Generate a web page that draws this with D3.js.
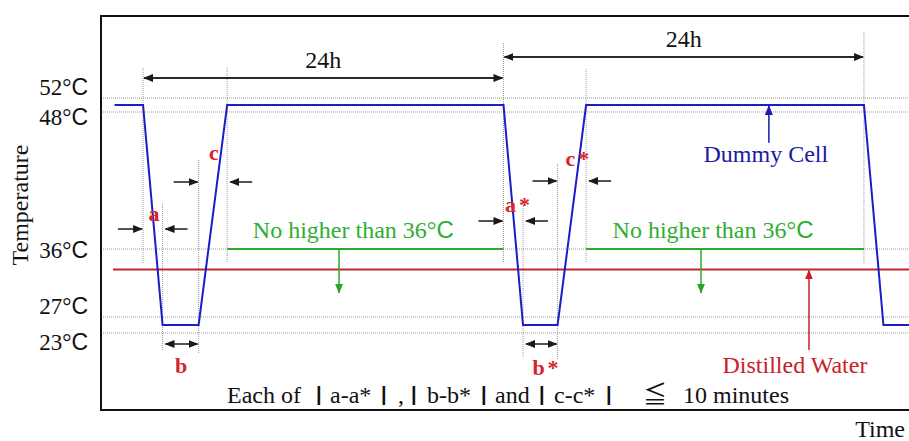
<!DOCTYPE html>
<html lang="en">
<head>
    <meta charset="UTF-8">
    <title>Temperature cycle</title>
    <script src="https://cdn.jsdelivr.net/npm/d3@7/dist/d3.min.js"></script>
    <style>
        body {
            margin: 0;
            padding: 0;
            background: #fff;
        }

        svg text {
            font-family: "Liberation Serif", "Tinos", "DejaVu Serif", serif;
        }

        svg .sans {
            font-family: "Liberation Sans", "Arimo", sans-serif;
        }

        svg .cjk {
            font-family: "Noto Sans CJK JP", sans-serif;
        }
    </style>
</head>
<body>
<svg id="chart" width="909" height="441" xmlns="http://www.w3.org/2000/svg">
    <defs></defs>
</svg>
<script>
    // dummy cell temperature profile (hours, deg C) - schematic
    var cycleTime = [-1.9, 0, 1.3, 3.7, 5.6, 24, 25.3, 27.6, 29.5, 48, 49.3, 51];
    var dummyCellTemp = [50, 50, 25, 25, 50, 50, 25, 25, 50, 50, 25, 25];

    var waterTime = [-2.0, 51];
    var waterTemp = [33.3, 33.3];

    var limitTemp = 36;
    var limitStart = [5.6, 29.5];
    var limitEnd = [24, 48];
    var limitArrowTime = [13.05, 37.15];

    var tempTicks = [52, 48, 36, 27, 23];
    var tempTickLabels = ['52', '48', '36', '27', '23'];

    var spanStart = [0, 24];
    var spanEnd = [24, 48];
    var spanLabels = ['24h', '24h'];

    (function () {
        var svg = d3.select('#chart');
        var left = 101, right = 909, top = 16, bottom = 410;

        var x = d3.scaleLinear().domain([-2.8, 51.0]).range([left, right]);
        // the drawing is not to scale: each labelled band has its own stretch
        var y = d3.scaleLinear().domain([23, 27, 36, 48, 52]).range([333, 317, 249, 112, 98]);

        var defs = svg.select('defs');

        function marker(id, color) {
            defs.append('marker')
                .attr('id', id)
                .attr('viewBox', '0 0 10 10')
                .attr('refX', 9).attr('refY', 5)
                .attr('markerWidth', 10).attr('markerHeight', 10)
                .attr('markerUnits', 'userSpaceOnUse')
                .attr('orient', 'auto-start-reverse')
                .append('path')
                .attr('d', 'M0,1 L10,5 L0,9 Z')
                .attr('fill', color);
        }

        marker('ah-black', '#1a1a1a');
        marker('ah-green', '#2aa52a');
        marker('ah-red', '#c8202a');
        marker('ah-blue', '#1a1ab4');

        // degree sign from the serif face, the C from a sans face like the original
        function celsius(sel) {
            sel.append('tspan').text('°');
            sel.append('tspan').attr('class', 'sans').text('C');
        }

        // dotted temperature guides
        svg.append('g')
            .selectAll('line')
            .data(tempTicks)
            .join('line')
            .attr('x1', left).attr('x2', right)
            .attr('y1', function (d) { return y(d); })
            .attr('y2', function (d) { return y(d); })
            .attr('stroke', '#9a9a9a')
            .attr('stroke-width', 1)
            .attr('stroke-dasharray', '1,1');

        // dotted time guides: [time, top, bottom]
        var guides = [
            [cycleTime[1], 68, y(limitTemp) + 14],
            [cycleTime[2], 203, y(23) + 17],
            [cycleTime[3], 160, y(23) + 20],
            [cycleTime[4], 67, y(limitTemp) + 13],
            [cycleTime[5], 43, y(limitTemp) + 13],
            [cycleTime[6], 202, y(23) + 24],
            [cycleTime[7], 164, y(23) + 26],
            [cycleTime[8], 69, y(limitTemp) + 14],
            [cycleTime[9], 32, y(limitTemp) + 14]
        ];
        svg.append('g')
            .selectAll('line')
            .data(guides)
            .join('line')
            .attr('x1', function (d) { return x(d[0]); })
            .attr('x2', function (d) { return x(d[0]); })
            .attr('y1', function (d) { return d[1]; })
            .attr('y2', function (d) { return d[2]; })
            .attr('stroke', '#9a9a9a')
            .attr('stroke-width', 1)
            .attr('stroke-dasharray', '1,1');

        // frame (open on the right)
        svg.append('path')
            .attr('d', 'M' + right + ',' + top + 'H' + left + 'V' + bottom + 'H' + right)
            .attr('fill', 'none')
            .attr('stroke', '#111')
            .attr('stroke-width', 2);

        // tick labels, nudged apart where guides sit close together
        var nudge = {52: -11, 48: 5, 36: 1, 27: -11, 23: 9};
        svg.append('g')
            .selectAll('text')
            .data(tempTicks)
            .join('text')
            .attr('x', 88)
            .attr('y', function (d) { return y(d) + nudge[d]; })
            .attr('dy', '0.36em')
            .attr('text-anchor', 'end')
            .attr('font-size', 23)
            .attr('fill', '#111')
            .text(function (d, i) { return tempTickLabels[i]; })
            .call(celsius);

        svg.append('text')
            .attr('transform', 'translate(28,205) rotate(-90)')
            .attr('text-anchor', 'middle')
            .attr('font-size', 24)
            .attr('fill', '#111')
            .text('Temperature');

        svg.append('text')
            .attr('x', 905).attr('y', 437)
            .attr('text-anchor', 'end')
            .attr('font-size', 24)
            .attr('fill', '#111')
            .text('Time');

        // distilled water
        svg.append('path')
            .datum(d3.zip(waterTime, waterTemp))
            .attr('d', d3.line()
                .x(function (d) { return x(d[0]); })
                .y(function (d) { return y(d[1]); }))
            .attr('fill', 'none')
            .attr('stroke', '#c0282e')
            .attr('stroke-width', 2);

        // limit lines (no higher than 36)
        var limits = d3.zip(limitStart, limitEnd, limitArrowTime);
        var lim = svg.append('g').selectAll('g').data(limits).join('g');
        lim.append('line')
            .attr('x1', function (d) { return x(d[0]); })
            .attr('x2', function (d) { return x(d[1]); })
            .attr('y1', y(limitTemp)).attr('y2', y(limitTemp))
            .attr('stroke', '#2ea82e')
            .attr('stroke-width', 2);
        lim.append('line')
            .attr('x1', function (d) { return x(d[2]); })
            .attr('x2', function (d) { return x(d[2]); })
            .attr('y1', y(limitTemp)).attr('y2', y(30.2))
            .attr('stroke', '#2ea82e')
            .attr('stroke-width', 1.5)
            .attr('marker-end', 'url(#ah-green)');
        lim.append('text')
            .attr('x', function (d) { return (x(d[0]) + x(d[1])) / 2 - 12; })
            .attr('y', y(limitTemp) - 11)
            .attr('text-anchor', 'middle')
            .attr('font-size', 24)
            .attr('fill', '#2fae2f')
            .text('No higher than 36')
            .call(celsius);

        // dummy cell
        svg.append('path')
            .datum(d3.zip(cycleTime, dummyCellTemp))
            .attr('d', d3.line()
                .x(function (d) { return x(d[0]); })
                .y(function (d) { return y(d[1]); }))
            .attr('fill', 'none')
            .attr('stroke', '#1c1cc8')
            .attr('stroke-width', 2)
            .attr('stroke-linejoin', 'miter');

        // 24h spans
        var spanY = [78, 57];
        var spans = svg.append('g').selectAll('g').data(d3.zip(spanStart, spanEnd, spanLabels, spanY)).join('g');
        spans.append('line')
            .attr('x1', function (d) { return x(d[0]) + 1; })
            .attr('x2', function (d) { return x(d[1]) - 1; })
            .attr('y1', function (d) { return d[3]; })
            .attr('y2', function (d) { return d[3]; })
            .attr('stroke', '#2a2a2a')
            .attr('stroke-width', 2)
            .attr('marker-start', 'url(#ah-black)')
            .attr('marker-end', 'url(#ah-black)');
        spans.append('text')
            .attr('x', function (d) { return (x(d[0]) + x(d[1])) / 2; })
            .attr('y', function (d) { return d[3] - 10; })
            .attr('text-anchor', 'middle')
            .attr('font-size', 24)
            .attr('fill', '#111')
            .text(function (d) { return d[2]; });

        // transition widths a, b, c and starred ones
        var marks = [
            {from: cycleTime[1], to: cycleTime[2], yy: 229, kind: 'in', label: 'a', lx: 154, ly: 221},
            {from: cycleTime[3], to: cycleTime[4], yy: 182, kind: 'in', label: 'c', lx: 214, ly: 160},
            {from: cycleTime[2], to: cycleTime[3], yy: 344, kind: 'both', label: 'b', lx: 181, ly: 373},
            {from: cycleTime[5], to: cycleTime[6], yy: 221, kind: 'in', label: 'a*', lx: 519, ly: 212},
            {from: cycleTime[7], to: cycleTime[8], yy: 181, kind: 'in', label: 'c*', lx: 579, ly: 166},
            {from: cycleTime[6], to: cycleTime[7], yy: 344, kind: 'both', label: 'b*', lx: 547, ly: 375}
        ];
        var mg = svg.append('g');
        marks.forEach(function (m) {
            var a = x(m.from), b = x(m.to);
            if (m.kind === 'in') {
                mg.append('line')
                    .attr('x1', a - 25).attr('x2', a - 1)
                    .attr('y1', m.yy).attr('y2', m.yy)
                    .attr('stroke', '#1a1a1a').attr('stroke-width', 1.5)
                    .attr('marker-end', 'url(#ah-black)');
                mg.append('line')
                    .attr('x1', b + 25).attr('x2', b + 3)
                    .attr('y1', m.yy).attr('y2', m.yy)
                    .attr('stroke', '#1a1a1a').attr('stroke-width', 1.5)
                    .attr('marker-end', 'url(#ah-black)');
            } else {
                mg.append('line')
                    .attr('x1', a + 3).attr('x2', b - 1)
                    .attr('y1', m.yy).attr('y2', m.yy)
                    .attr('stroke', '#1a1a1a').attr('stroke-width', 1.5)
                    .attr('marker-start', 'url(#ah-black)')
                    .attr('marker-end', 'url(#ah-black)');
            }
            mg.append('text')
                .attr('x', m.lx).attr('y', m.ly)
                .attr('text-anchor', 'middle')
                .attr('font-size', 22)
                .attr('font-weight', 'bold')
                .attr('letter-spacing', m.label.length > 1 ? 3 : 0)
                .attr('fill', '#d8232a')
                .text(m.label);
        });

        // callouts
        svg.append('line')
            .attr('x1', x(41.67)).attr('x2', x(41.67))
            .attr('y1', y(45.3)).attr('y2', y(50) + 1)
            .attr('stroke', '#1a1ab4').attr('stroke-width', 1.5)
            .attr('marker-end', 'url(#ah-blue)');
        svg.append('text')
            .attr('x', x(41.67) - 3).attr('y', y(45.3) + 19)
            .attr('text-anchor', 'middle')
            .attr('font-size', 24)
            .attr('fill', '#1a1aa0')
            .text('Dummy Cell');

        svg.append('line')
            .attr('x1', x(44.34)).attr('x2', x(44.34))
            .attr('y1', y(18.75)).attr('y2', y(waterTemp[0]) + 1)
            .attr('stroke', '#c8202a').attr('stroke-width', 1.5)
            .attr('marker-end', 'url(#ah-red)');
        svg.append('text')
            .attr('x', x(44.34) - 14).attr('y', y(18.75) + 23)
            .attr('text-anchor', 'middle')
            .attr('font-size', 24)
            .attr('fill', '#c8202a')
            .text('Distilled Water');

        // footnote
        var foot = [['Each of', 227], ['|', 316], ['a-a*', 330], ['|', 381], [',', 398], ['|', 411],
            ['b-b*', 427], ['|', 481], ['and', 495], ['|', 539], ['c-c*', 554], ['|', 606],
            ['≦', 643], ['10 minutes', 683]];
        svg.append('g')
            .selectAll('text')
            .data(foot)
            .join('text')
            .attr('class', function (d) { return d[0] === '≦' ? 'cjk' : (d[0] === '|' ? 'sans' : null); })
            .attr('x', function (d) { return d[1]; })
            .attr('y', function (d) { return d[0] === '|' ? 401 : 403; })
            .attr('font-size', function (d) { return d[0] === '|' ? 20 : 24; })
            .attr('font-weight', function (d) { return d[0] === '|' ? 'bold' : null; })
            .attr('fill', '#111')
            .text(function (d) { return d[0]; });
    })();
</script>
</body>
</html>
